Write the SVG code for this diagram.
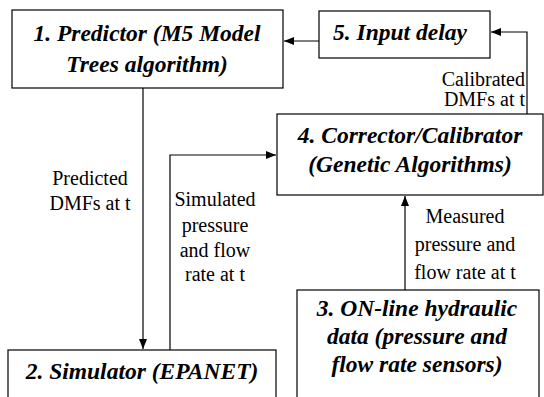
<svg xmlns="http://www.w3.org/2000/svg" width="544" height="397" viewBox="0 0 544 397">
  <defs>
    <marker id="arrow" viewBox="0 0 10 10" refX="10" refY="5" markerWidth="11" markerHeight="10" markerUnits="userSpaceOnUse" orient="auto">
      <path d="M0,1 L10,5 L0,9 z" fill="#000"/>
    </marker>
    <style>
      .box { fill: #fff; stroke: #000; stroke-width: 1.2; }
      .title { font-family: "Liberation Serif", "Times New Roman", serif; font-size: 23.5px; font-weight: bold; font-style: italic; text-anchor: middle; fill: #000; }
      .label { font-family: "Liberation Serif", "Times New Roman", serif; font-size: 20px; fill: #000; }
      .wire { fill: none; stroke: #000; stroke-width: 1.2; }
    </style>
  </defs>
  <rect width="544" height="397" fill="#fff"/>

  <g id="connectors">
    <path class="wire" d="M319,41 L284,41" marker-end="url(#arrow)"/>
    <path class="wire" d="M527,114 L527,32 L491,32" marker-end="url(#arrow)"/>
    <path class="wire" d="M143,88 L143,349" marker-end="url(#arrow)"/>
    <path class="wire" d="M170,350 L170,155 L276,155" marker-end="url(#arrow)"/>
    <path class="wire" d="M405,290 L405,196" marker-end="url(#arrow)"/>
    <text class="label" text-anchor="end" x="525" y="86">Calibrated</text>
    <text class="label" text-anchor="end" x="525" y="106">DMFs at t</text>
    <text class="label" text-anchor="middle" x="90" y="185">Predicted</text>
    <text class="label" text-anchor="middle" x="90" y="210">DMFs at t</text>
    <text class="label" text-anchor="middle" x="215" y="206">Simulated</text>
    <text class="label" text-anchor="middle" x="215" y="232">pressure</text>
    <text class="label" text-anchor="middle" x="215" y="257">and flow</text>
    <text class="label" text-anchor="middle" x="215" y="281">rate at t</text>
    <text class="label" text-anchor="middle" x="465" y="223">Measured</text>
    <text class="label" text-anchor="middle" x="465" y="251">pressure and</text>
    <text class="label" text-anchor="middle" x="465" y="279">flow rate at t</text>
  </g>

  <g id="predictor">
    <rect class="box" x="12" y="10" width="271" height="78"/>
    <text class="title" x="147" y="41">1. Predictor (M5 Model</text>
    <text class="title" x="147" y="72">Trees algorithm)</text>
  </g>

  <g id="input-delay">
    <rect class="box" x="319" y="11" width="171" height="47"/>
    <text class="title" x="400" y="40">5. Input delay</text>
  </g>

  <g id="corrector">
    <rect class="box" x="277" y="114" width="266" height="81"/>
    <text class="title" x="410" y="143">4. Corrector/Calibrator</text>
    <text class="title" x="410" y="172">(Genetic Algorithms)</text>
  </g>

  <g id="simulator">
    <rect class="box" x="8" y="350" width="268" height="60"/>
    <text class="title" x="142" y="379">2. Simulator (EPANET)</text>
  </g>

  <g id="online-data">
    <rect class="box" x="297" y="290" width="242" height="120"/>
    <text class="title" x="417" y="316">3. ON-line hydraulic</text>
    <text class="title" x="417" y="344">data (pressure and</text>
    <text class="title" x="417" y="372">flow rate sensors)</text>
  </g>
</svg>
